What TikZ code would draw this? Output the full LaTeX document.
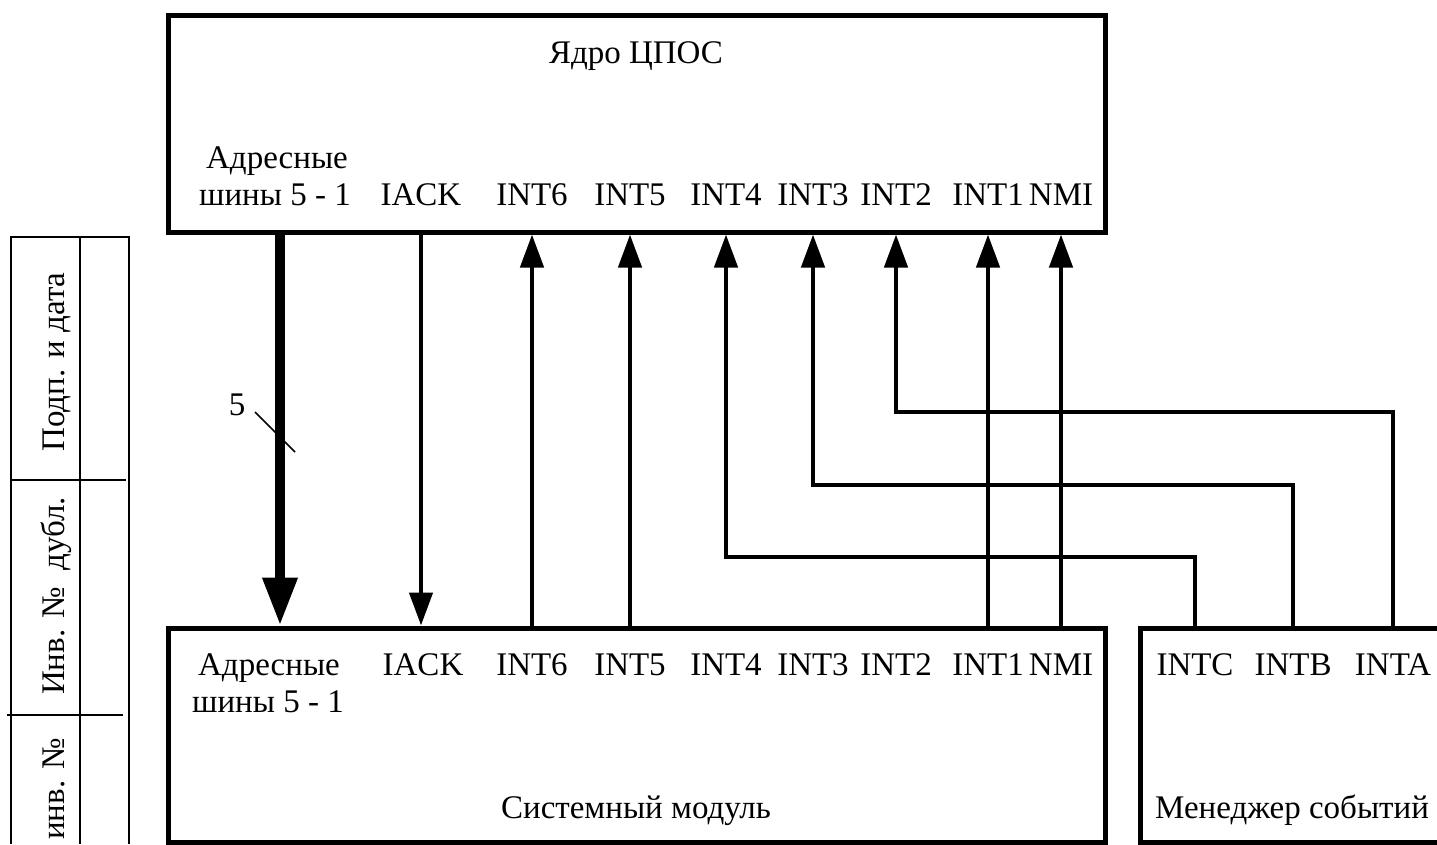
\documentclass[tikz,border=0pt]{standalone}
\usepackage{fontspec}
\setmainfont{Liberation Serif}
\usetikzlibrary{arrows.meta,positioning}

\begin{document}
\begin{tikzpicture}[x=1pt, y=-1pt,
    blk/.style={draw, rectangle, line width=5pt, inner sep=0pt},
    lbl/.style={font=\fontsize{33}{40}\selectfont, inner sep=0pt, anchor=base},
    side/.style={font=\fontsize{33}{40}\selectfont, inner sep=0pt, rotate=90, anchor=base},
    sig/.style={line width=4.5pt, -{Triangle[length=33pt, width=23pt]}},
    bus/.style={line width=10pt, -{Triangle[length=48pt, width=33pt]}},
    frm/.style={line width=1.5pt}
  ]
    \useasboundingbox (0,0) rectangle (1437,844);

    % frame on the left margin
    \draw[frm] (10,237) -- (130,237);
    \draw[frm] (11,237) -- (11,844);
    \draw[frm] (80,237) -- (80,844);
    \draw[frm] (129,237) -- (129,844);
    \draw[frm] (12,480) -- (126,480);
    \draw[frm] (7,715) -- (123,715);
    \node[side] (podp) at (64,362) {Подп. и дата};
    \node[side] (dubl) at (64,596) {Инв. №\ \ дубл.};
    \node[side] (inv) at (64,789) {инв. №};

    % blocks
    \node[blk, minimum width=937pt, minimum height=217pt] (core) at (636.5,123.5) {};
    \node[blk, minimum width=937pt, minimum height=214pt] (sys) at (636.5,735) {};
    \node[blk, minimum width=320pt, minimum height=214pt] (evm) at (1300,735) {};

    \node[lbl] (coreT) at (636,63) {Ядро ЦПОС};
    \node[lbl] (sysT) at (636,818) {Системный модуль};
    \node[lbl] (evmT) at (1292,818) {Менеджер событий};

    % core pins
    \node[lbl] (c0a) at (277,168) {Адресные};
    \node[lbl] (c0) at (275,205) {шины 5 - 1};
    \node[lbl] (c1) at (421,205) {IACK};
    \node[lbl] (c2) at (532,205) {INT6};
    \node[lbl] (c3) at (630,205) {INT5};
    \node[lbl] (c4) at (726,205) {INT4};
    \node[lbl] (c5) at (813,205) {INT3};
    \node[lbl] (c6) at (896,205) {INT2};
    \node[lbl] (c7) at (988,205) {INT1};
    \node[lbl] (c8) at (1061,205) {NMI};

    % system module pins
    \node[lbl] (s0a) at (269,675) {Адресные};
    \node[lbl] (s0) at (268,712) {шины 5 - 1};
    \node[lbl] (s1) at (423,675) {IACK};
    \node[lbl] (s2) at (532,675) {INT6};
    \node[lbl] (s3) at (630,675) {INT5};
    \node[lbl] (s4) at (726,675) {INT4};
    \node[lbl] (s5) at (813,675) {INT3};
    \node[lbl] (s6) at (896,675) {INT2};
    \node[lbl] (s7) at (988,675) {INT1};
    \node[lbl] (s8) at (1061,675) {NMI};

    % event manager pins
    \node[lbl] (ec) at (1195,675) {INTC};
    \node[lbl] (eb) at (1293,675) {INTB};
    \node[lbl] (ea) at (1393,675) {INTA};

    % bus
    \coordinate (busx) at (280,0);
    \draw[bus] (core.south -| busx) -- (sys.north -| busx);
    \draw[frm] (255,412) -- (295,452);
    \node[lbl] (busw) at (237,415) {5};

    % signals
    \coordinate (r2) at (0,412);
    \coordinate (r3) at (0,485);
    \coordinate (r4) at (0,557);
    \draw[sig] (core.south -| c1) -- (sys.north -| c1);
    \draw[sig] (sys.north -| c2) -- (core.south -| c2);
    \draw[sig] (sys.north -| c3) -- (core.south -| c3);
    \draw[sig] (evm.north -| ec) |- (r4 -| c4) -- (core.south -| c4);
    \draw[sig] (evm.north -| eb) |- (r3 -| c5) -- (core.south -| c5);
    \draw[sig] (evm.north -| ea) |- (r2 -| c6) -- (core.south -| c6);
    \draw[sig] (sys.north -| c7) -- (core.south -| c7);
    \draw[sig] (sys.north -| c8) -- (core.south -| c8);
  \end{tikzpicture}
\end{document}
